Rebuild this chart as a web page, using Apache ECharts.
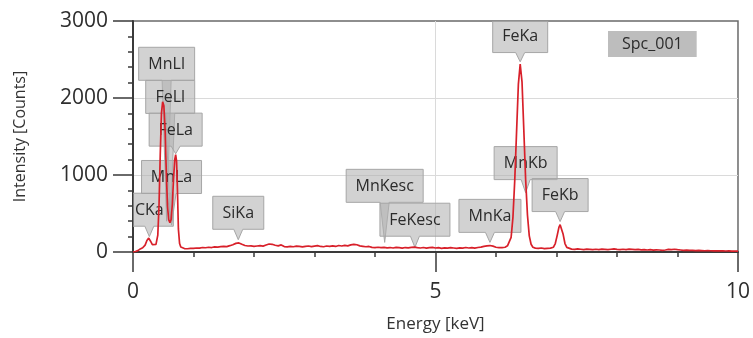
<!DOCTYPE html>
<html>
<head>
<meta charset="utf-8">
<script src="https://cdn.jsdelivr.net/npm/echarts@6/dist/echarts.min.js"></script>
<style>
  html, body { margin: 0; padding: 0; background: #ffffff; }
  #chart { width: 753px; height: 338px; }
</style>
</head>
<body>
<div id="chart"></div>
<script>
// EDS spectrum: channel energies (keV) and intensities (counts)
const energy = [
  0.00, 0.04, 0.08, 0.12, 0.16, 0.20, 0.23, 0.26, 0.29, 0.32, 0.35, 0.38, 0.41, 0.43, 0.45, 0.47,
  0.49, 0.51, 0.53, 0.55, 0.57, 0.59, 0.61, 0.63, 0.65, 0.67, 0.69, 0.705, 0.72, 0.735, 0.75, 0.77,
  0.79, 0.85, 0.90, 0.95, 1.00, 1.05, 1.10, 1.15, 1.20, 1.25, 1.30, 1.35, 1.40, 1.45, 1.50, 1.55,
  1.60, 1.65, 1.70, 1.75, 1.80, 1.85, 1.90, 1.95, 2.00, 2.05, 2.10, 2.15, 2.20, 2.25, 2.30, 2.35,
  2.40, 2.45, 2.50, 2.55, 2.60, 2.65, 2.70, 2.75, 2.80, 2.85, 2.90, 2.95, 3.00, 3.05, 3.10, 3.15,
  3.20, 3.25, 3.30, 3.35, 3.40, 3.45, 3.50, 3.55, 3.60, 3.65, 3.70, 3.75, 3.80, 3.85, 3.90, 3.95,
  4.00, 4.05, 4.10, 4.15, 4.20, 4.25, 4.30, 4.35, 4.40, 4.45, 4.50, 4.55, 4.60, 4.65, 4.70, 4.75,
  4.80, 4.85, 4.90, 4.95, 5.00, 5.05, 5.10, 5.15, 5.20, 5.25, 5.30, 5.35, 5.40, 5.45, 5.50, 5.55,
  5.60, 5.65, 5.70, 5.75, 5.80, 5.85, 5.90, 5.95, 6.00, 6.05, 6.10, 6.15, 6.19, 6.22, 6.25, 6.28,
  6.31, 6.34, 6.37, 6.40, 6.43, 6.46, 6.49, 6.52, 6.55, 6.58, 6.61, 6.65, 6.70, 6.75, 6.80, 6.85,
  6.90, 6.95, 6.98, 7.01, 7.04, 7.06, 7.08, 7.11, 7.14, 7.17, 7.20, 7.25, 7.30, 7.35, 7.40, 7.45,
  7.50, 7.55, 7.60, 7.65, 7.70, 7.75, 7.80, 7.85, 7.90, 7.95, 8.00, 8.05, 8.10, 8.15, 8.20, 8.25,
  8.30, 8.35, 8.40, 8.45, 8.50, 8.55, 8.60, 8.65, 8.70, 8.75, 8.80, 8.85, 8.90, 8.95, 9.00, 9.05,
  9.10, 9.15, 9.20, 9.25, 9.30, 9.35, 9.40, 9.45, 9.50, 9.55, 9.60, 9.65, 9.70, 9.75, 9.80, 9.85,
  9.90, 9.95, 10.00
];
const counts = [
  0, 6, 18, 40, 55, 90, 150, 180, 140, 95, 85, 100, 220, 600, 1250, 1800,
  1950, 1900, 1600, 1050, 600, 420, 380, 420, 620, 950, 1200, 1265, 1180, 800, 300, 110,
  65, 45, 42, 48, 46, 52, 50, 58, 55, 62, 58, 66, 64, 70, 74, 70,
  82, 95, 112, 118, 100, 84, 78, 80, 74, 78, 82, 76, 90, 104, 100, 88,
  80, 92, 70, 66, 72, 68, 76, 72, 66, 74, 78, 70, 76, 82, 72, 68,
  78, 74, 80, 72, 84, 78, 86, 80, 92, 100, 94, 80, 74, 68, 72, 60,
  58, 62, 56, 60, 54, 58, 52, 60, 56, 50, 58, 54, 60, 64, 56, 52,
  58, 50, 56, 60, 52, 56, 48, 54, 50, 56, 52, 48, 54, 50, 58, 52,
  56, 50, 58, 64, 72, 80, 84, 76, 62, 56, 58, 62, 80, 100, 190, 450,
  930, 1560, 2180, 2440, 2210, 1580, 940, 480, 210, 100, 62, 50, 46, 52, 44, 48,
  50, 62, 110, 210, 320, 355, 330, 230, 110, 60, 45, 38, 34, 40, 36, 32,
  38, 34, 30, 36, 32, 38, 34, 30, 36, 40, 34, 30, 36, 32, 38, 34,
  30, 34, 28, 32, 26, 30, 24, 28, 26, 22, 26, 34, 30, 36, 30, 26,
  22, 24, 20, 22, 18, 20, 18, 16, 18, 16, 14, 16, 14, 15, 13, 14,
  12, 13, 12
];

// Identified lines: name, line energy (keV), pointer tip and box base (counts)
const peakNames   = ['CKa', 'MnLl', 'FeLl', 'FeLa', 'MnLa', 'SiKa', 'MnKesc', 'FeKesc', 'MnKa', 'FeKa', 'MnKb', 'FeKb'];
const peakEnergy  = [0.27, 0.556, 0.615, 0.705, 0.637, 1.74, 4.16, 4.66, 5.90, 6.40, 6.49, 7.06];
const peakTip     = [200, 400, 380, 1275, 350, 160, 125, 60, 125, 2470, 770, 395];
const peakBoxBase = [335, 2230, 1800, 1375, 760, 295, 645, 205, 255, 2590, 940, 525];

const spectrumName = 'Spc_001';
const xTickValues = [0, 5, 10];
const yTickValues = [0, 1000, 2000, 3000];

const FONT_FAMILY = '"Open Sans", "Noto Sans", sans-serif';
const measureCtx = document.createElement('canvas').getContext('2d');
measureCtx.font = '16px ' + FONT_FAMILY;
function textWidth(s) { return measureCtx.measureText(s).width; }

const spectrum = energy.map((e, i) => [e, counts[i]]);
const peaks = peakEnergy.map((e, i) => [e, peakTip[i], peakBoxBase[i]]);

// Grey callout box with a pointer from its lower edge down to the line position
function renderPeakLabel(params, api) {
  const i = params.dataIndex;
  const tip = api.coord([api.value(0), api.value(1)]);
  const base = api.coord([api.value(0), api.value(2)]);
  const name = peakNames[i];
  const w = Math.round(textWidth(name) + 19);
  const h = 33;
  const x0 = tip[0] - w / 2, x1 = x0 + w;
  const y1 = base[1], y0 = y1 - h;
  const half = 4.5;
  return {
    type: 'group',
    children: [
      {
        type: 'polygon',
        shape: { points: [[x0, y0], [x1, y0], [x1, y1], [tip[0] + half, y1], [tip[0], tip[1]], [tip[0] - half, y1], [x0, y1]] },
        style: { fill: 'rgba(178,178,178,0.58)', stroke: '#a6a6a6', lineWidth: 1 }
      },
      {
        type: 'text',
        style: {
          text: name, x: (x0 + x1) / 2, y: (y0 + y1) / 2 + 0.5,
          align: 'center', verticalAlign: 'middle',
          font: '16px ' + FONT_FAMILY, fill: '#2b2b2b'
        }
      }
    ]
  };
}

const plainNumber = v => String(v);

const chart = echarts.init(document.getElementById('chart'), null, { renderer: 'canvas' });
chart.setOption({
  animation: false,
  backgroundColor: '#ffffff',
  textStyle: { fontFamily: FONT_FAMILY },
  grid: {
    left: 133, right: 12.5, top: 21, bottom: 85.5,
    show: true, borderColor: '#6a6a6a', borderWidth: 1.5, backgroundColor: 'transparent'
  },
  legend: {
    data: [{ name: spectrumName, icon: 'none' }],
    selectedMode: false,
    left: 608, top: 31,
    itemWidth: 0, itemHeight: 0, itemGap: 0,
    padding: [5, 14, 5, 9],
    backgroundColor: '#bdbdbd',
    textStyle: { fontSize: 16, color: '#2b2b2b', fontFamily: FONT_FAMILY }
  },
  xAxis: {
    type: 'value',
    min: xTickValues[0], max: xTickValues[xTickValues.length - 1], interval: 5,
    name: 'Energy [keV]', nameLocation: 'middle', nameGap: 64,
    nameTextStyle: { fontSize: 17, color: '#333333', fontFamily: FONT_FAMILY },
    axisLine: { show: true, lineStyle: { color: '#3a3a3a', width: 2 } },
    axisTick: { show: true, length: 20, lineStyle: { color: '#3a3a3a', width: 1.5 } },
    minorTick: { show: true, splitNumber: 5, length: 5, lineStyle: { color: '#3a3a3a', width: 1.5 } },
    axisLabel: { fontSize: 21, color: '#2e2e2e', margin: 30, fontFamily: FONT_FAMILY, formatter: plainNumber },
    splitLine: { show: false }
  },
  yAxis: {
    type: 'value',
    min: yTickValues[0], max: yTickValues[yTickValues.length - 1], interval: 1000,
    name: 'Intensity [Counts]', nameLocation: 'middle', nameGap: 105, nameRotate: 90,
    nameTextStyle: { fontSize: 16, color: '#333333', fontFamily: FONT_FAMILY },
    axisLine: { show: true, lineStyle: { color: '#3a3a3a', width: 2 } },
    axisTick: { show: true, length: 20, lineStyle: { color: '#3a3a3a', width: 1.5 } },
    minorTick: { show: true, splitNumber: 5, length: 5, lineStyle: { color: '#3a3a3a', width: 1.5 } },
    axisLabel: { fontSize: 21, color: '#2e2e2e', margin: 25, fontFamily: FONT_FAMILY, formatter: plainNumber },
    splitLine: { show: false }
  },
  series: [
    {
      name: 'peak labels',
      type: 'custom',
      z: 1,
      clip: true,
      silent: true,
      encode: { x: 0, y: [1, 2] },
      data: peaks,
      renderItem: renderPeakLabel
    },
    {
      name: spectrumName,
      type: 'line',
      z: 2,
      data: spectrum,
      showSymbol: false,
      symbol: 'none',
      lineStyle: { color: '#d8202a', width: 1.7 },
      itemStyle: { color: '#d8202a' },
      markLine: {
        silent: true,
        symbol: 'none',
        label: { show: false },
        lineStyle: { color: '#dadada', width: 1, type: 'solid' },
        z: 0,
        data: [{ yAxis: yTickValues[1] }, { yAxis: yTickValues[2] }, { xAxis: xTickValues[1] }]
      }
    }
  ]
});
</script>
</body>
</html>
